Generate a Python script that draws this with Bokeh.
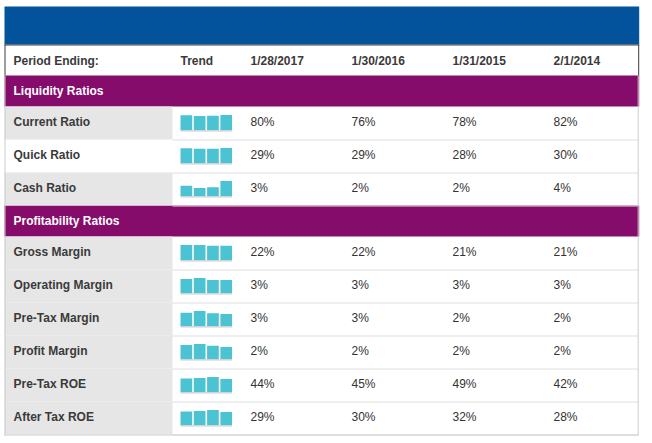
from bokeh.plotting import figure
from bokeh.models import Range1d
from bokeh.core.properties import value
from bokeh.embed import file_html
from bokeh.resources import INLINE

# ---------------- data ----------------
periods = ["1/28/2017", "1/30/2016", "1/31/2015", "2/1/2014"]
header_label = "Period Ending:"
trend_label = "Trend"

liquidity_title = "Liquidity Ratios"
liquidity_names = ["Current Ratio", "Quick Ratio", "Cash Ratio"]
current_ratio = [80.3, 76.0, 77.8, 82.0]
quick_ratio = [29.3, 28.6, 28.3, 30.2]
cash_ratio = [2.85, 2.2, 2.45, 4.15]

profitability_title = "Profitability Ratios"
profitability_names = ["Gross Margin", "Operating Margin", "Pre-Tax Margin",
                       "Profit Margin", "Pre-Tax ROE", "After Tax ROE"]
gross_margin = [22.2, 22.3, 20.9, 20.9]
operating_margin = [3.08, 3.3, 2.87, 2.87]
pretax_margin = [2.55, 2.92, 2.49, 2.33]
profit_margin = [1.87, 2.0, 1.75, 1.6]
pretax_roe = [44.0, 45.2, 48.8, 42.3]
after_tax_roe = [29.0, 29.7, 32.2, 27.8]

sections = [
    (liquidity_title, liquidity_names, [current_ratio, quick_ratio, cash_ratio]),
    (profitability_title, profitability_names,
     [gross_margin, operating_margin, pretax_margin, profit_margin, pretax_roe, after_tax_roe]),
]
# label cell shading (style)
label_shaded = [[True, False, True], [True] * 6]

# ---------------- style / layout ----------------
FONT = value("Liberation Sans")
BLUE = "#02539c"
PURPLE = "#860c6b"
TEAL = "#4bc3d3"
LABEL_BG = "#e6e6e6"
TXT = "#3a3a3a"
VAL_TXT = "#333333"

W, H = 652, 443
LEFT, RIGHT = 4, 638.7
BAND_TOP, BAND_BOT = 6, 44
HEAD_TOP, HEAD_BOT = 44, 75
SEC_H, ROW_H = 31, 33
LABEL_R = 172
TEXT_X, TREND_X = 13, 180
COL_X = [250, 351, 452, 553]
BAR_W, BAR_STEP, BAR_MAX, BAR_BOTTOM_GAP = 11.7, 13.3, 15.3, 9.3

p = figure(width=W, height=H, x_range=Range1d(0, W), y_range=Range1d(H, 0),
           output_backend="svg", toolbar_location=None, min_border=0)
p.axis.visible = False
p.grid.visible = False
p.outline_line_color = None
p.background_fill_color = "white"
p.border_fill_color = "white"

# blue band
p.quad(left=[LEFT], right=[RIGHT], top=[BAND_TOP], bottom=[BAND_BOT],
       fill_color=BLUE, line_color=None)

# header row
hx, ht = [TEXT_X, TREND_X], [header_label, trend_label]
for x, per in zip(COL_X, periods):
    hx.append(x); ht.append(per)
hy = [(HEAD_TOP + HEAD_BOT) / 2 + 0.5] * len(hx)
p.text(x=hx, y=hy, text=ht, text_font=FONT, text_font_size="12px",
       text_font_style="bold", text_color=TXT, text_baseline="middle", text_align="left")

# body
y = HEAD_BOT
sec_quads = dict(left=[], right=[], top=[], bottom=[])
sec_text = dict(x=[], y=[], text=[])
lab_quads = dict(left=[], right=[], top=[], bottom=[])
name_text = dict(x=[], y=[], text=[])
val_text = dict(x=[], y=[], text=[])
bars = dict(left=[], right=[], top=[], bottom=[])
bases = dict(left=[], right=[], top=[], bottom=[])
sep = dict(xs=[], ys=[])

for (title, names, series), shades in zip(sections, label_shaded):
    sec_quads["left"].append(LEFT); sec_quads["right"].append(RIGHT)
    sec_quads["top"].append(y); sec_quads["bottom"].append(y + SEC_H)
    sec_text["x"].append(TEXT_X); sec_text["y"].append(y + SEC_H / 2 - 0.2)
    sec_text["text"].append(title)
    y += SEC_H
    for name, vals, shaded in zip(names, series, shades):
        top, bot = y, y + ROW_H
        if shaded:
            lab_quads["left"].append(LEFT); lab_quads["right"].append(LABEL_R)
            lab_quads["top"].append(top); lab_quads["bottom"].append(bot)
        cy = bot - 17.5
        name_text["x"].append(TEXT_X); name_text["y"].append(cy); name_text["text"].append(name)
        for x, v in zip(COL_X, vals):
            val_text["x"].append(x); val_text["y"].append(cy)
            val_text["text"].append(f"{round(v)}%")
        base = bot - BAR_BOTTOM_GAP
        vmax = max(vals)
        for k, v in enumerate(vals):
            l = TREND_X + k * BAR_STEP
            bars["left"].append(l); bars["right"].append(l + BAR_W)
            bars["bottom"].append(base); bars["top"].append(base - BAR_MAX * v / vmax)
        bases["left"].append(TREND_X); bases["right"].append(TREND_X + 3 * BAR_STEP + BAR_W)
        bases["top"].append(base); bases["bottom"].append(base + 1.3)
        sep["xs"].append([LABEL_R, RIGHT - 1]); sep["ys"].append([bot + 0.5, bot + 0.5])
        y = bot

p.quad(**sec_quads, fill_color=PURPLE, line_color=None)
p.quad(**lab_quads, fill_color=LABEL_BG, line_color=None)
p.multi_line(**sep, line_color="#dedede", line_width=1)
p.quad(**bars, fill_color=TEAL, line_color=None)
p.quad(**bases, fill_color="#cdcdcd", line_color=None)

p.text(**sec_text, text_font=FONT, text_font_size="12px", text_font_style="bold",
       text_color="white", text_baseline="middle", text_align="left")
p.text(**name_text, text_font=FONT, text_font_size="12px", text_font_style="bold",
       text_color=TXT, text_baseline="middle", text_align="left")
p.text(**val_text, text_font=FONT, text_font_size="12px",
       text_color=VAL_TXT, text_baseline="middle", text_align="left")

# borders
body_bottom = y
p.multi_line(xs=[[LEFT + 0.5, LEFT + 0.5], [RIGHT - 1, RIGHT - 1], [LEFT, RIGHT - 1]],
             ys=[[HEAD_BOT, body_bottom + 1], [HEAD_BOT, body_bottom + 1], [body_bottom + 0.5, body_bottom + 0.5]],
             line_color="#cccccc", line_width=1)
p.multi_line(xs=[[LEFT + 0.5, LEFT + 0.5], [RIGHT - 0.5, RIGHT - 0.5], [LEFT, RIGHT]],
             ys=[[HEAD_TOP, HEAD_BOT], [HEAD_TOP, HEAD_BOT], [HEAD_TOP + 0.5, HEAD_TOP + 0.5]],
             line_color="#3c3c3c", line_width=1)

open("out.html", "w").write(file_html(p, INLINE))
